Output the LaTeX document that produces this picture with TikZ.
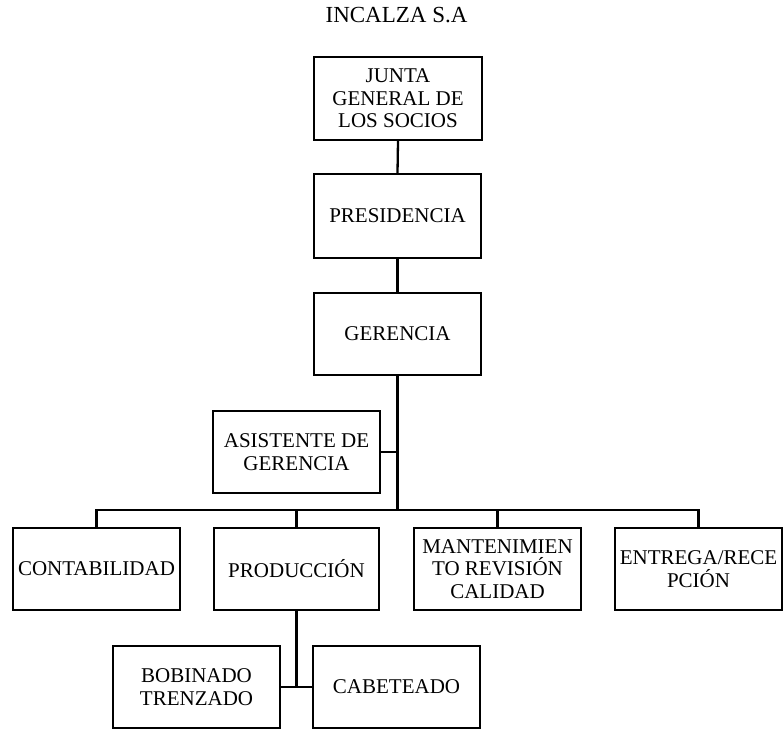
\documentclass[tikz,border=0pt]{standalone}
\usepackage{fontspec}
\setmainfont{Liberation Serif}
\begin{document}
\begin{tikzpicture}[x=1pt,y=-1pt,
  box/.style={draw=black, line width=2.2pt, rectangle, inner sep=0pt,
    minimum width=167pt, minimum height=83pt, align=center,
    font=\fontsize{21}{22.5}\selectfont},
  conn/.style={draw=black, line width=2.3pt}]
\useasboundingbox (0,0) rectangle (783,729);
\node[anchor=base, font=\fontsize{23}{24}\selectfont] (title) at (396.5,22) {INCALZA S.A};
\node[box, minimum width=168pt] (junta) at (398,98.5) {JUNTA\\GENERAL DE\\LOS SOCIOS};
\node[box, minimum height=84pt] (pres) at (397.5,216) {PRESIDENCIA};
\node[box, minimum height=82pt] (ger) at (397.5,334) {GERENCIA};
\node[box, minimum height=82pt] (asis) at (296.5,452) {ASISTENTE DE\\GERENCIA};
\node[box, minimum height=82pt] (cont) at (96.5,569) {CONTABILIDAD};
\node[box, minimum width=165pt, minimum height=82pt] (prod) at (296.5,569) {PRODUCCIÓN};
\node[box, minimum height=82pt] (mant) at (497.5,569) {MANTENIMIEN\\TO REVISIÓN\\CALIDAD};
\node[box, minimum height=82pt] (entr) at (698.5,569) {ENTREGA/RECE\\PCIÓN};
\node[box, minimum height=82pt] (bob) at (196.5,687) {BOBINADO\\TRENZADO};
\node[box, minimum height=82pt] (cab) at (396.5,687) {CABETEADO};
\coordinate (bus) at (397.5,510);
\draw[conn] (junta.south) -- (pres.north);
\draw[conn] (pres.south) -- (ger.north);
\draw[conn] (ger.south) -- (bus);
\draw[conn] (asis.east) -- (asis.east -| ger.south);
\draw[conn] (cont.north) |- (bus);
\draw[conn] (entr.north) |- (bus);
\draw[conn] (prod.north) -- (prod.north |- bus);
\draw[conn] (mant.north) -- (mant.north |- bus);
\coordinate (pj) at (prod.south |- bob.east);
\draw[conn] (prod.south) -- (pj);
\draw[conn] (bob.east) -- (cab.west);
\end{tikzpicture}
\end{document}
